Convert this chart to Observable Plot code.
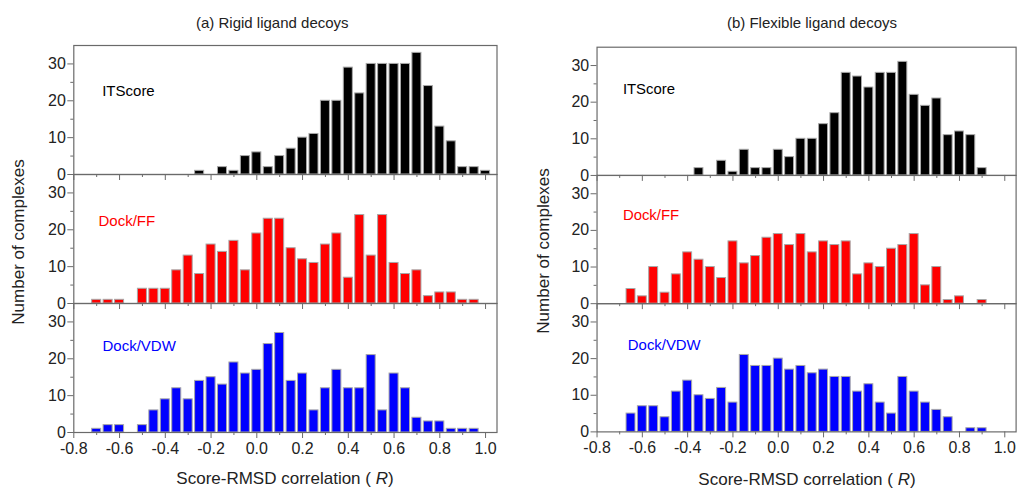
<!DOCTYPE html>
<html><head><meta charset="utf-8">
<script src="https://cdn.jsdelivr.net/npm/d3@7"></script>
<script src="https://cdn.jsdelivr.net/npm/@observablehq/plot@0.6"></script>
<style>
html,body{margin:0;padding:0;background:#fff;overflow:hidden;width:1017px;height:489px}
#wrap{position:relative;width:1017px;height:489px;font-family:"Liberation Sans",Arial,sans-serif;color:#222}
.abs{position:absolute;white-space:nowrap;line-height:1}
.holder{position:absolute;top:0}
svg{overflow:visible}
</style></head><body><div id="wrap"></div>
<script>
// Bin centres (bin width 0.05)
const bins = [-0.70,-0.65,-0.60,-0.55,-0.50,-0.45,-0.40,-0.35,-0.30,-0.25,-0.20,-0.15,-0.10,-0.05,0.00,0.05,0.10,0.15,0.20,0.25,0.30,0.35,0.40,0.45,0.50,0.55,0.60,0.65,0.70,0.75,0.80,0.85,0.90,0.95,1.00];
const series = ["ITScore","Dock/FF","Dock/VDW"];
const colors = ["#000000","#ff0000","#0000ff"];

// (a) Rigid ligand decoys
const rigidITScore = [0,0,0,0,0,0,0,0,0,1,0,2,1,5,6,2,5,7,10,11,20,20,29,22,30,30,30,30,33,24,13,9,2,2,1];
const rigidDockFF  = [1,1,1,0,4,4,4,9,13,8,16,14,17,9,19,23,23,15,12,11,16,19,7,24,13,24,11,8,9,2,3,3,1,1,0];
const rigidDockVDW = [1,2,2,0,2,6,9,12,9,14,15,13,19,16,17,24,27,14,16,6,12,17,12,12,21,6,16,12,4,3,3,1,1,1,0];
// (b) Flexible ligand decoys
const flexITScore  = [0,0,0,0,0,0,0,2,0,4,1,7,2,2,7,5,10,10,14,17,28,27,24,28,28,31,22,19,21,11,12,11,2,0,0];
const flexDockFF   = [0,4,2,10,3,8,14,12,10,7,17,11,13,18,19,16,19,14,17,16,17,8,11,10,15,16,19,5,10,1,2,0,1,0,0];
const flexDockVDW  = [0,5,7,7,4,11,14,10,9,12,8,21,18,18,20,17,18,16,17,15,15,11,13,8,5,15,11,8,6,4,0,1,1,0,0];

const xMajor = [-0.8,-0.6,-0.4,-0.2,0.0,0.2,0.4,0.6,0.8,1.0];
const xMinor = [-0.7,-0.5,-0.3,-0.1,0.1,0.3,0.5,0.7,0.9];
const yMajor = [0,10,20,30];
const yMinor = [5,15,25];
const panelTitles = ["(a) Rigid ligand decoys","(b) Flexible ligand decoys"];
const xTitleText = "Score-RMSD correlation ( ";
const xTitleItalic = "R";
const yTitle = "Number of complexes";

const FONT = '"Liberation Sans", Arial, sans-serif';
const wrap = document.getElementById("wrap");

function panel(counts, g) {
  const rows = [];
  series.forEach((s, i) => bins.forEach((b, j) => {
    const c = counts[i][j];
    if (c > 0) rows.push({series: s, r: b, count: c});
  }));
  const labelMarks = series.map((s, i) => Plot.text([s], {
    fy: d => d, text: d => d, frameAnchor: "top-left", textAnchor: "start", lineAnchor: "middle",
    dx: g.lab[i][0], dy: g.lab[i][1], fill: colors[i], fontSize: 15
  }));
  const chart = Plot.plot({
    width: g.width, height: g.height,
    marginLeft: g.mL, marginRight: g.mR, marginTop: g.mT, marginBottom: g.mB,
    style: {fontFamily: FONT, fontSize: "16px", color: "#222", background: "transparent", overflow: "visible"},
    x: {domain: [-0.8, 1.05]},
    y: {domain: [0, 35]},
    fy: {domain: series, padding: 0, axis: null},
    color: {domain: series, range: colors},
    marks: [
      Plot.rect(rows, {x1: d => d.r - 0.025, x2: d => d.r + 0.025, y1: 0, y2: "count", fy: "series",
        fill: "series", stroke: "#a8a8a8", strokeWidth: 1, insetLeft: 1.2, insetRight: 1.2}),
      Plot.frame({stroke: "#6a6a6a", strokeWidth: 1.2}),
      Plot.axisY({ticks: yMajor, tickSize: 6, tickPadding: 2, label: null, stroke: "#6a6a6a", fill: "#222", fontSize: 16}),
      Plot.axisY({ticks: yMinor, tickSize: 3, label: null, stroke: "#6a6a6a", fill: "none"}),
      Plot.axisX({ticks: xMajor, tickSize: 6, label: null, stroke: "#6a6a6a", fill: "none", facetAnchor: null}),
      Plot.axisX({ticks: xMinor, tickSize: 3, label: null, stroke: "#6a6a6a", fill: "none", facetAnchor: null}),
      Plot.axisX({ticks: xMajor, tickSize: 0, tickPadding: 10, label: null, fill: "#222", fontSize: 16,
        tickFormat: d => d.toFixed(1)}),
      ...labelMarks
    ]
  });
  const holder = document.createElement("div");
  holder.className = "holder";
  holder.style.left = g.left + "px";
  holder.appendChild(chart);
  wrap.appendChild(holder);
}

panel([rigidITScore, rigidDockFF, rigidDockVDW], {
  left: 0, width: 500, height: 470, mL: 73.3, mR: 3.5, mT: 44, mB: 37,
  lab: [[28.4, 46], [24.7, 46.3], [28.7, 42.6]]
});
panel([flexITScore, flexDockFF, flexDockVDW], {
  left: 520, width: 500, height: 470, mL: 77, mR: 1.4, mT: 46, mB: 35.5,
  lab: [[26, 42], [26, 40], [31, 41.7]]
});

function addText(html, css) {
  const d = document.createElement("div");
  d.className = "abs";
  d.innerHTML = html;
  Object.assign(d.style, css);
  wrap.appendChild(d);
  return d;
}
// Panel titles
addText(panelTitles[0], {left: "196px", top: "22px", fontSize: "15px", transform: "translateY(-50%)"});
addText(panelTitles[1], {left: "897px", top: "22px", fontSize: "15px", transform: "translate(-100%,-50%)"});
// X titles
const xt = xTitleText + "<i>" + xTitleItalic + "</i>)";
addText(xt, {left: "285px", top: "478px", fontSize: "17px", transform: "translate(-50%,-50%)"});
addText(xt, {left: "807px", top: "479px", fontSize: "17px", transform: "translate(-50%,-50%)"});
// Y titles
addText(yTitle, {left: "18.3px", top: "241.7px", fontSize: "17px", transform: "translate(-50%,-50%) rotate(-90deg)"});
addText(yTitle, {left: "543px", top: "251px", fontSize: "17px", transform: "translate(-50%,-50%) rotate(-90deg)"});
</script>
</body></html>
